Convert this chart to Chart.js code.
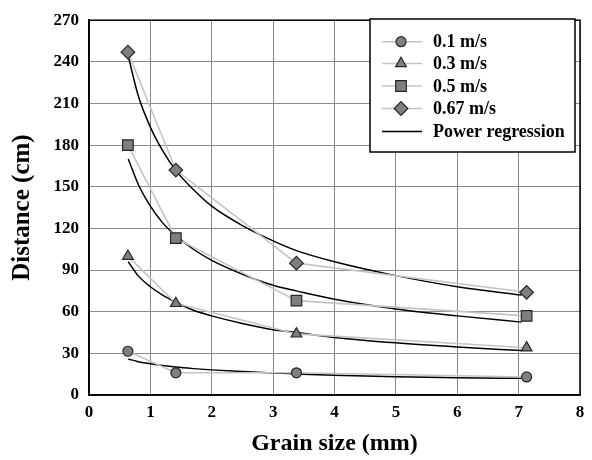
<!DOCTYPE html>
<html>
<head>
<meta charset="utf-8">
<script src="https://cdn.jsdelivr.net/npm/chart.js@4/dist/chart.umd.min.js"></script>
<style>
  html, body { margin: 0; padding: 0; background: #fff; }
  #wrap { width: 592px; height: 460px; }
</style>
</head>
<body>
<div id="wrap"><canvas id="c" width="592" height="460"></canvas></div>
<script>
// Measured data (grain size in mm, distance in cm)
const grainSize = [0.634, 1.415, 3.38, 7.13];
const dist01  = [31.5, 16, 16, 13];
const dist03  = [100, 66, 44, 34];
const dist05  = [180, 113, 68, 57];
const dist067 = [247, 162, 95, 74];

// Power regression curves
const curveX    = [0.64, 0.8, 1, 1.2, 1.41, 1.7, 2, 2.5, 3, 3.38, 4, 5, 6, 7.05];
const fit01     = [26, 24, 22.5, 21.2, 20.1, 19, 18.1, 16.9, 15.8, 15.2, 14.2, 13.2, 12.4, 12];
const fit03     = [96, 86, 78, 72, 67, 61, 57, 51.5, 47, 45, 41.5, 37.6, 34.6, 32];
const fit05     = [170, 152, 136, 124, 115, 105, 97, 87, 79, 75, 69, 62, 57, 52.5];
const fit067    = [244, 216, 193, 176, 162, 148, 136, 122, 111, 104, 96, 86, 78, 72];

const seriesLabels = ['0.1 m/s', '0.3 m/s', '0.5 m/s', '0.67 m/s'];
const regressionLabel = 'Power regression';
const xTicks = [0, 1, 2, 3, 4, 5, 6, 7, 8];
const yTicks = [0, 30, 60, 90, 120, 150, 180, 210, 240, 270];

const FONT = "'Liberation Serif', 'Times New Roman', serif";
const pts = (xs, ys) => xs.map((x, i) => ({ x: x, y: ys[i] }));

const markerStyles = [
  { style: 'circle', r: 5 },
  { style: 'triangle', r: 6.2 },
  { style: 'rect', r: 7.5 },
  { style: 'rectRot', r: 6.8 }
];
const measured = [dist01, dist03, dist05, dist067];
const fits = [fit01, fit03, fit05, fit067];

const datasets = [];
measured.forEach((ys, i) => {
  datasets.push({
    label: seriesLabels[i],
    data: pts(grainSize, ys),
    showLine: true,
    borderColor: '#c4c4c4',
    borderWidth: 1.6,
    pointStyle: markerStyles[i].style,
    pointRadius: markerStyles[i].r,
    pointHoverRadius: markerStyles[i].r,
    pointBackgroundColor: '#7f7f7f',
    pointBorderColor: '#262626',
    pointBorderWidth: 1.2,
    tension: 0,
    order: 1
  });
});
fits.forEach((ys, i) => {
  datasets.push({
    label: regressionLabel,
    data: pts(curveX, ys),
    showLine: true,
    borderColor: '#000',
    borderWidth: 1.5,
    pointRadius: 0,
    pointHoverRadius: 0,
    cubicInterpolationMode: 'monotone',
    order: 2
  });
});

const framePlugin = {
  id: 'frame',
  afterDatasetsDraw(chart) {
    const { ctx, chartArea: a } = chart;
    ctx.save();
    ctx.strokeStyle = '#000';
    ctx.lineWidth = 1.5;
    ctx.strokeRect(a.left, a.top, a.right - a.left, a.bottom - a.top);
    ctx.restore();
  }
};

const legendPlugin = {
  id: 'boxLegend',
  afterDraw(chart) {
    const ctx = chart.ctx;
    const bx = 370, by = 19, bw = 205, bh = 133;
    ctx.save();
    ctx.fillStyle = '#fff';
    ctx.fillRect(bx, by, bw, bh);
    ctx.strokeStyle = '#000';
    ctx.lineWidth = 1.5;
    ctx.strokeRect(bx, by, bw, bh);
    const rows = [41.7, 63.5, 86, 108.5, 131.5];
    ctx.font = 'bold 18px ' + FONT;
    ctx.textBaseline = 'middle';
    ctx.textAlign = 'left';
    for (let i = 0; i < 4; i++) {
      const y = rows[i];
      ctx.strokeStyle = '#c4c4c4';
      ctx.lineWidth = 1.6;
      ctx.beginPath();
      ctx.moveTo(382, y); ctx.lineTo(422, y);
      ctx.stroke();
      ctx.fillStyle = '#7f7f7f';
      ctx.strokeStyle = '#262626';
      ctx.lineWidth = 1.2;
      Chart.helpers.drawPoint(ctx, {
        pointStyle: markerStyles[i].style,
        radius: markerStyles[i].r,
        rotation: 0,
        borderWidth: 1.2
      }, 401, y);
      ctx.fillStyle = '#000';
      ctx.fillText(seriesLabels[i], 433, y + 1);
    }
    ctx.strokeStyle = '#000';
    ctx.lineWidth = 1.5;
    ctx.beginPath();
    ctx.moveTo(382, rows[4]); ctx.lineTo(422, rows[4]);
    ctx.stroke();
    ctx.fillStyle = '#000';
    ctx.fillText(regressionLabel, 433, rows[4] + 1);
    ctx.restore();
  }
};

new Chart(document.getElementById('c'), {
  type: 'scatter',
  data: { datasets: datasets },
  options: {
    responsive: false,
    animation: false,
    layout: { padding: { top: 14, right: 12, left: 0, bottom: 0 } },
    plugins: {
      legend: { display: false },
      tooltip: { enabled: false }
    },
    scales: {
      x: {
        type: 'linear',
        min: 0, max: 8,
        afterBuildTicks: (s) => { s.ticks = xTicks.map(v => ({ value: v })); },
        afterFit: (s) => { s.height = 65; },
        grid: { color: '#8a8a8a', lineWidth: 1, drawTicks: false },
        border: { display: true, color: '#000', width: 1.5 },
        ticks: {
          color: '#000',
          padding: 7,
          font: { family: FONT, size: 17, weight: 'bold' }
        },
        title: {
          display: true,
          text: 'Grain size (mm)',
          color: '#000',
          padding: { top: 0, bottom: 2 },
          font: { family: FONT, size: 24, weight: 'bold', lineHeight: 1.2 }
        }
      },
      y: {
        type: 'linear',
        min: 0, max: 270,
        afterBuildTicks: (s) => { s.ticks = yTicks.map(v => ({ value: v })); },
        afterFit: (s) => { s.width = 89; },
        grid: { color: '#8a8a8a', lineWidth: 1, drawTicks: false },
        border: { display: true, color: '#000', width: 1.5 },
        ticks: {
          color: '#000',
          padding: 10,
          font: { family: FONT, size: 17, weight: 'bold' }
        },
        title: {
          display: true,
          text: 'Distance (cm)',
          color: '#000',
          padding: { top: 8, bottom: 0 },
          font: { family: FONT, size: 25, weight: 'bold', lineHeight: 1.2 }
        }
      }
    }
  },
  plugins: [framePlugin, legendPlugin]
});
</script>
</body>
</html>
